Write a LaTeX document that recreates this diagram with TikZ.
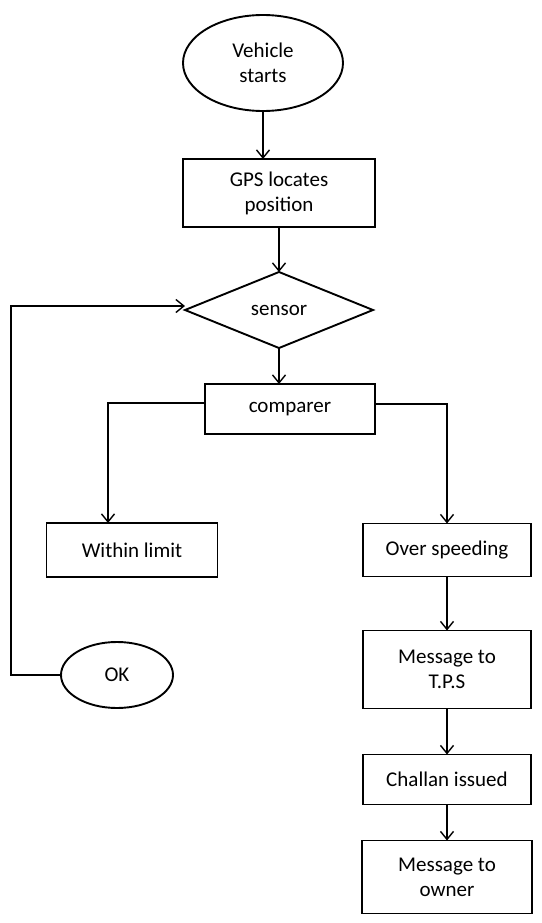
\documentclass[tikz,border=0pt]{standalone}
\usepackage{fontspec}
\setmainfont{Carlito}
\usepackage{tikz}
\usetikzlibrary{arrows.meta,positioning,shapes.geometric}

\begin{document}
\begin{tikzpicture}[x=1pt, y=-1pt, >={Straight Barb[length=8pt,width=13pt]},
  font=\fontsize{21}{25}\selectfont,
  box/.style={draw, line width=1.9pt, align=center, inner sep=2pt, outer sep=0pt},
  link/.style={->, line width=1.4pt}]
  \useasboundingbox (0,0) rectangle (541,923);

  \node[box,ellipse,minimum width=160pt,minimum height=96pt] (v) at (263,63) {Vehicle\\starts};
  \node[box,minimum width=192pt,minimum height=68pt,below=48pt of v,xshift=16pt] (gps) {GPS locates\\position};
  \node[box,diamond,aspect=2.5,inner sep=0pt,minimum width=188pt,minimum height=76pt,below=45pt of gps] (sen) {sensor};
  \node[box,minimum width=170pt,minimum height=50pt,below=36pt of sen,xshift=11pt] (cmp) {comparer};
  \node[box,minimum width=171pt,minimum height=54pt] (wl) at (132,550) {Within limit};
  \node[box,minimum width=168pt,minimum height=53pt] (os) at (447,550) {Over speeding};
  \node[box,minimum width=168pt,minimum height=78pt,below=54pt of os] (tps) {Message to\\T.P.S};
  \node[box,minimum width=168pt,minimum height=50pt,below=46pt of tps] (ch) {Challan issued};
  \node[box,minimum width=170pt,minimum height=73pt,below=36pt of ch] (own) {Message to\\owner};
  \node[box,ellipse,minimum width=112pt,minimum height=66pt] (ok) at (117,675) {OK};

  \draw[link] (v.south) -- (v.south |- gps.north);
  \draw[link] (gps) -- (sen);
  \draw[link] (sen.south) -- (sen.south |- cmp.north);
  \draw[link] ([yshift=6pt]cmp.west) -| ([xshift=-24pt]wl.north);
  \draw[link] ([yshift=5pt]cmp.east) -| (os.north);
  \draw[link] (os) -- (tps);
  \draw[link] (tps) -- (ch);
  \draw[link] (ch) -- (own);
  \draw[link] (ok.west) -- ++(-50pt,0) |- ([yshift=4pt]sen.west);
\end{tikzpicture}
\end{document}
